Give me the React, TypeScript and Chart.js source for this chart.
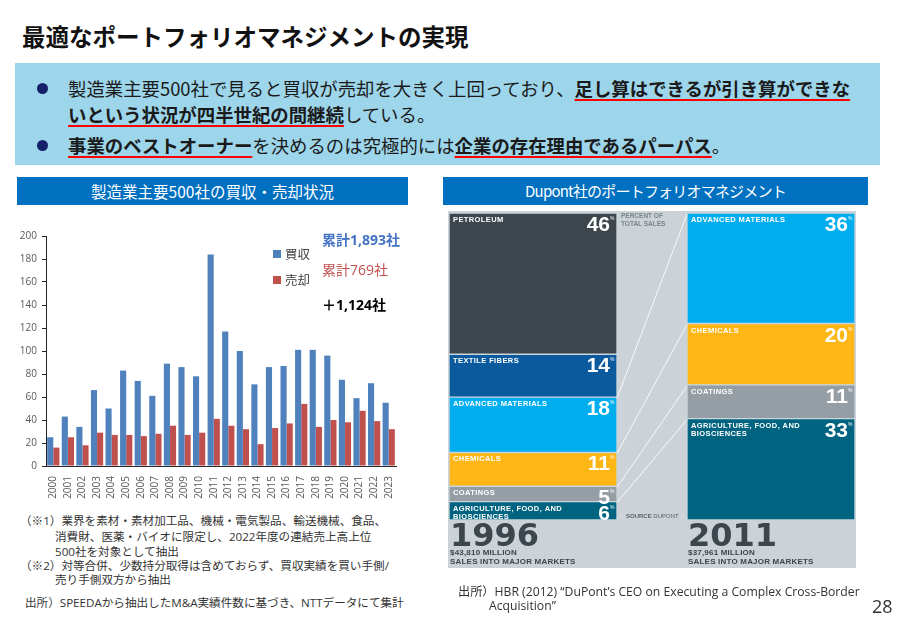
import React, { useEffect, useRef } from 'react';
import { Chart, registerables } from 'chart.js';

Chart.register(...registerables);

// ---- Left chart data ----
const years = ['2000','2001','2002','2003','2004','2005','2006','2007','2008','2009','2010','2011','2012','2013','2014','2015','2016','2017','2018','2019','2020','2021','2022','2023'];
const acquisitions = [25,43,34,66,50,83,74,61,89,86,78,184,117,100,71,86,87,101,101,96,75,59,72,55];
const divestitures = [16,25,18,29,27,27,26,28,35,27,29,41,35,32,19,33,37,54,34,40,38,48,39,32];
const seriesNames = ['買収', '売却'];
const seriesColors = ['#4f81bd', '#c0504d'];
const yMax = 200;
const yStep = 20;

// ---- DuPont portfolio data (bottom-up stacking order) ----
const segmentNames = ['AGRICULTURE, FOOD, AND\nBIOSCIENCES', 'COATINGS', 'CHEMICALS', 'ADVANCED MATERIALS', 'TEXTILE FIBERS', 'PETROLEUM'];
const share1996 = [6, 5, 11, 18, 14, 46];
const share2011 = [33, 11, 20, 36, 0, 0];
const segmentColors = ['#00637f', '#949ea4', '#fcb615', '#00adee', '#0b5a9d', '#3d464c'];
const portfolioYears = ['1996', '2011'];
const portfolioSales = ['$43,810 MILLION', '$37,961 MILLION'];

const abs = (s: React.CSSProperties): React.CSSProperties => ({ position: 'absolute', whiteSpace: 'nowrap', ...s });

const U: React.FC<{ children: React.ReactNode }> = ({ children }) => (
  <span style={{ fontWeight: 700, textDecoration: 'underline', textDecorationColor: '#ff0000', textDecorationThickness: '2px', textUnderlineOffset: '3px' }}>{children}</span>
);

const portfolioPlugin = {
  id: 'portfolioLabels',
  afterDatasetsDraw(chart: any) {
    const ctx = chart.ctx;
    ctx.save();
    // connecting lines
    chart.data.datasets.forEach((ds: any, di: number) => {
      const meta = chart.getDatasetMeta(di);
      if (meta.data.length < 2) return;
      const a = meta.data[0].getProps(['x', 'y', 'width'], true);
      const b = meta.data[1].getProps(['x', 'y', 'width'], true);
      ctx.strokeStyle = 'rgba(255,255,255,0.85)';
      ctx.lineWidth = 1;
      ctx.beginPath();
      ctx.moveTo(a.x + a.width / 2, a.y + 1);
      ctx.lineTo(b.x - b.width / 2, b.y + 1);
      ctx.stroke();
    });
    // labels
    chart.data.datasets.forEach((ds: any, di: number) => {
      const meta = chart.getDatasetMeta(di);
      meta.data.forEach((el: any, j: number) => {
        const p = el.getProps(['x', 'y', 'width'], true);
        const left = p.x - p.width / 2;
        const right = p.x + p.width / 2;
        const v = ds.data[j].y;
        ctx.fillStyle = '#ffffff';
        ctx.textBaseline = 'alphabetic';
        ctx.textAlign = 'left';
        ctx.font = 'bold 7.5px "Liberation Sans", Arial, sans-serif';
        (ctx as any).letterSpacing = '0.4px';
        String(ds.label).split('\n').forEach((line: string, k: number) => {
          ctx.fillText(line, left + 4, p.y + 9 + k * 8);
        });
        (ctx as any).letterSpacing = '0px';
        ctx.textAlign = 'right';
        ctx.font = 'bold 21px "Liberation Sans", Arial, sans-serif';
        ctx.fillText(String(v), right - 7, p.y + 18);
        ctx.textAlign = 'left';
        ctx.font = '5px "Liberation Sans", Arial, sans-serif';
        ctx.fillText('%', right - 7, p.y + 7);
      });
    });
    ctx.restore();
  },
};

export default function App() {
  const barRef = useRef<HTMLCanvasElement>(null);
  const pfRef = useRef<HTMLCanvasElement>(null);

  useEffect(() => {
    const c1 = new Chart(barRef.current!, {
      type: 'bar',
      data: {
        labels: years,
        datasets: [
          { label: seriesNames[0], data: acquisitions, backgroundColor: seriesColors[0], categoryPercentage: 0.84, barPercentage: 1 },
          { label: seriesNames[1], data: divestitures, backgroundColor: seriesColors[1], categoryPercentage: 0.84, barPercentage: 1 },
        ],
      },
      options: {
        responsive: false,
        animation: false,
        devicePixelRatio: 1,
        layout: { padding: { top: 8, right: 14, left: 0, bottom: 0 } },
        plugins: { legend: { display: false }, tooltip: { enabled: false } },
        scales: {
          x: {
            grid: { display: false },
            border: { color: '#262626', width: 1 },
            ticks: { color: '#595959', font: { size: 10, family: '"Open Sans", sans-serif' }, minRotation: 90, maxRotation: 90, autoSkip: false, padding: 2 },
            afterFit: (s: any) => { s.height = 44; },
          },
          y: {
            min: 0,
            max: yMax,
            ticks: { stepSize: yStep, color: '#595959', font: { size: 10, family: '"Open Sans", sans-serif' }, padding: 5 },
            grid: { drawOnChartArea: false, drawTicks: true, tickLength: 4, color: '#262626' },
            border: { color: '#262626', width: 1 },
            afterFit: (s: any) => { s.width = 46; },
          },
        },
      },
    });

    const c2 = new Chart(pfRef.current!, {
      type: 'bar',
      data: {
        datasets: segmentNames.map((name, i) => ({
          label: name,
          data: [{ x: 0, y: share1996[i] }, { x: 1, y: share2011[i] }].filter((d) => d.y > 0),
          backgroundColor: segmentColors[i],
          borderColor: '#c9d6de',
          borderWidth: 1,
          borderSkipped: false,
          barThickness: 168,
        })),
      },
      options: {
        responsive: false,
        animation: false,
        devicePixelRatio: 1,
        layout: { padding: 0 },
        plugins: { legend: { display: false }, tooltip: { enabled: false } },
        scales: {
          x: { type: 'linear', min: -0.353, max: 1.353, offset: false, grid: { offset: false }, stacked: true, display: false },
          y: { min: 0, max: 100, stacked: true, display: false },
        },
      },
      plugins: [portfolioPlugin],
    } as any);

    return () => { c1.destroy(); c2.destroy(); };
  }, []);

  const jp = '"Noto Sans CJK JP", sans-serif';
  const mix = '"Open Sans", "Noto Sans CJK JP", sans-serif';
  const foot: React.CSSProperties = { fontFamily: mix, fontSize: 11.6, color: '#333', lineHeight: '14px' };

  return (
    <div style={{ position: 'absolute', left: 0, top: 0, width: 900, height: 618, background: '#fff', overflow: 'hidden', fontFamily: jp }}>
      {/* Title */}
      <div style={abs({ left: 22, top: 22, lineHeight: '28px', fontSize: 23.5, fontWeight: 700, color: '#111' })}>最適なポートフォリオマネジメントの実現</div>

      {/* Blue message box */}
      <div style={abs({ left: 15, top: 63, width: 865, height: 102, background: '#9dd5ea' })} />
      <div style={abs({ left: 37, top: 83, width: 11, height: 11, borderRadius: '50%', background: '#14206a' })} />
      <div style={abs({ left: 37, top: 140, width: 11, height: 11, borderRadius: '50%', background: '#14206a' })} />
      <div style={abs({ left: 68, top: 75, fontSize: 18.4, lineHeight: '26px', color: '#1a1a1a' })}>
        製造業主要500社で見ると買収が売却を大きく上回っており、<U>足し算はできるが引き算ができな</U>
      </div>
      <div style={abs({ left: 68, top: 101, fontSize: 18.4, lineHeight: '26px', color: '#1a1a1a' })}>
        <U>いという状況が四半世紀の間継続</U>している。
      </div>
      <div style={abs({ left: 68, top: 132, fontSize: 18.4, lineHeight: '26px', color: '#1a1a1a' })}>
        <U>事業のベストオーナー</U>を決めるのは究極的には<U>企業の存在理由であるパーパス</U>。
      </div>

      {/* Left header */}
      <div style={abs({ left: 17, top: 177, width: 391, height: 28, background: '#0070c0', color: '#fff', fontSize: 15.5, lineHeight: '28px', textAlign: 'center' })}>製造業主要500社の買収・売却状況</div>

      {/* Bar chart */}
      <canvas ref={barRef} width={410} height={285} style={abs({ left: 0, top: 225 })} />

      {/* Legend & totals */}
      <div style={abs({ left: 273, top: 250, width: 8, height: 8, background: seriesColors[0] })} />
      <div style={abs({ left: 285, top: 246, fontSize: 12.5, lineHeight: '16px', color: '#404040' })}>{seriesNames[0]}</div>
      <div style={abs({ left: 273, top: 276, width: 8, height: 8, background: seriesColors[1] })} />
      <div style={abs({ left: 285, top: 272, fontSize: 12.5, lineHeight: '16px', color: '#404040' })}>{seriesNames[1]}</div>
      <div style={abs({ left: 322, top: 231, fontSize: 14, lineHeight: '18px', fontWeight: 700, color: '#4472c4', fontFamily: mix })}>累計1,893社</div>
      <div style={abs({ left: 322, top: 261, fontSize: 14, lineHeight: '18px', color: '#c0504d', fontFamily: mix })}>累計769社</div>
      <div style={abs({ left: 322, top: 296, fontSize: 14, lineHeight: '18px', fontWeight: 700, color: '#000', fontFamily: mix })}>＋1,124社</div>

      {/* Footnotes */}
      <div style={abs({ ...foot, left: 20, top: 514 })}>（※1）業界を素材・素材加工品、機械・電気製品、輸送機械、食品、</div>
      <div style={abs({ ...foot, left: 55, top: 530 })}>消費財、医薬・バイオに限定し、2022年度の連結売上高上位</div>
      <div style={abs({ ...foot, left: 55, top: 545 })}>500社を対象として抽出</div>
      <div style={abs({ ...foot, left: 20, top: 559 })}>（※2）対等合併、少数持分取得は含めておらず、買収実績を買い手側/</div>
      <div style={abs({ ...foot, left: 55, top: 573 })}>売り手側双方から抽出</div>
      <div style={abs({ ...foot, left: 25, top: 596 })}>出所）SPEEDAから抽出したM&amp;A実績件数に基づき、NTTデータにて集計</div>

      {/* Right header */}
      <div style={abs({ left: 443, top: 177, width: 425, height: 28, background: '#0070c0', color: '#fff', fontSize: 15, lineHeight: '28px', textAlign: 'center', letterSpacing: '-0.8px' })}>Dupont社のポートフォリオマネジメント</div>

      {/* DuPont panel */}
      <div style={abs({ left: 448, top: 211, width: 408, height: 357, background: '#cbd3d8' })} />
      <canvas ref={pfRef} width={406} height={307} style={abs({ left: 449, top: 213 })} />
      <div style={abs({ left: 621, top: 212, fontFamily: '"Liberation Sans", Arial, sans-serif', fontSize: 6.5, lineHeight: '8px', fontWeight: 700, color: '#78838a' })}>PERCENT OF<br />TOTAL SALES</div>
      <div style={abs({ left: 626, top: 512, fontFamily: '"Liberation Sans", Arial, sans-serif', fontSize: 6, lineHeight: '8px', color: '#55606a' })}><b>SOURCE</b> DUPONT</div>
      {portfolioYears.map((y, i) => (
        <React.Fragment key={y}>
          <div style={abs({ left: i === 0 ? 450 : 688, top: 520, fontFamily: '"DejaVu Sans", sans-serif', fontWeight: 700, fontSize: 32, lineHeight: '30px', color: '#3d464c' })}>{y}</div>
          <div style={abs({ left: i === 0 ? 450 : 688, top: 548, fontFamily: '"Liberation Sans", Arial, sans-serif', fontWeight: 700, fontSize: 8, lineHeight: '9px', color: '#3d464c', letterSpacing: '0.2px' })}>{portfolioSales[i]}<br />SALES INTO MAJOR MARKETS</div>
        </React.Fragment>
      ))}

      {/* Source right */}
      <div style={abs({ ...foot, fontSize: 12.2, left: 458, top: 585 })}>出所）HBR (2012) “DuPont’s CEO on Executing a Complex Cross-Border</div>
      <div style={abs({ ...foot, fontSize: 12.2, left: 489, top: 599 })}>Acquisition”</div>
      <div style={abs({ left: 872, top: 594, fontFamily: mix, fontSize: 18, lineHeight: '24px', color: '#333' })}>28</div>
    </div>
  );
}
